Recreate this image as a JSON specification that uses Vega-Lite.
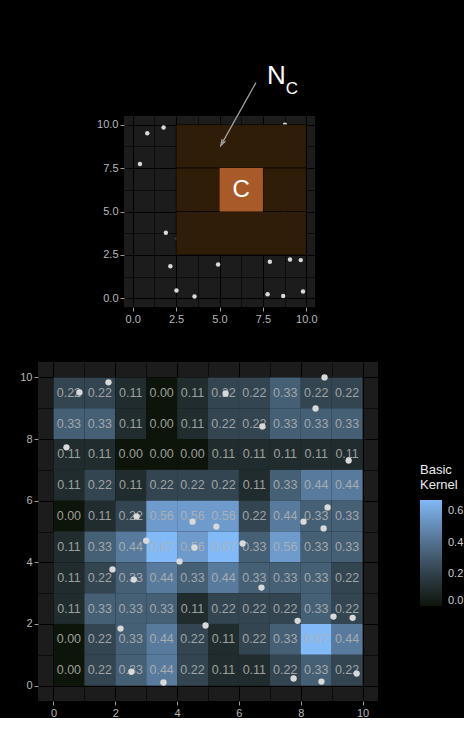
{
  "$schema": "https://vega.github.io/schema/vega-lite/v6.json",
  "background": "#000000",
  "padding": {"left": 19, "top": 62, "right": 0, "bottom": 0},
  "config": {
    "view": {"stroke": null},
    "font": "Liberation Sans",
    "axis": {"domain": false, "gridColor": "#000000", "labelColor": "#b8b8b8", "labelFontSize": 11, "tickColor": "#9a9a9a", "tickSize": 4, "tickWidth": 1, "labelPadding": 2}
  },
  "datasets": {
    "points": [{"x":0.84,"y":9.51},{"x":1.78,"y":9.84},{"x":0.42,"y":7.73},{"x":2.69,"y":5.49},{"x":4.5,"y":5.32},{"x":3.0,"y":4.7},{"x":5.27,"y":5.16},{"x":5.57,"y":9.48},{"x":6.76,"y":8.41},{"x":8.77,"y":10.0},{"x":8.48,"y":8.99},{"x":9.55,"y":7.3},{"x":8.87,"y":5.78},{"x":8.09,"y":5.32},{"x":8.74,"y":5.1},{"x":4.08,"y":4.03},{"x":1.91,"y":3.77},{"x":2.6,"y":3.44},{"x":2.17,"y":1.85},{"x":2.52,"y":0.45},{"x":3.56,"y":0.1},{"x":6.12,"y":4.61},{"x":6.73,"y":3.18},{"x":4.92,"y":1.95},{"x":7.9,"y":2.1},{"x":9.06,"y":2.24},{"x":9.68,"y":2.2},{"x":7.77,"y":0.23},{"x":8.67,"y":0.13},{"x":9.81,"y":0.39},{"x":4.56,"y":4.48}],
    "nbr": [{"x":2.5,"x2":10,"y":7.5,"y2":10},{"x":2.5,"x2":5,"y":5,"y2":7.5},{"x":7.5,"x2":10,"y":5,"y2":7.5},{"x":2.5,"x2":10,"y":2.5,"y2":5}],
    "center": [{"x":5,"x2":7.5,"y":5,"y2":7.5,"cx":6.25,"cy":6.25,"label":"C"}],
    "arrow": [{"x":7.1,"y":12.42,"x2":5.16,"y2":8.95}],
    "annN": [{"x":7.73,"y":12.36,"t":"N"}],
    "annC": [{"x":8.82,"y":11.79,"t":"C"}],
    "cells": [
      {"x":0,"x2":1,"cx":0.5,"y":9,"y2":10,"cy":9.5,"v":0.22},{"x":1,"x2":2,"cx":1.5,"y":9,"y2":10,"cy":9.5,"v":0.22},{"x":2,"x2":3,"cx":2.5,"y":9,"y2":10,"cy":9.5,"v":0.11},{"x":3,"x2":4,"cx":3.5,"y":9,"y2":10,"cy":9.5,"v":0.0},{"x":4,"x2":5,"cx":4.5,"y":9,"y2":10,"cy":9.5,"v":0.11},{"x":5,"x2":6,"cx":5.5,"y":9,"y2":10,"cy":9.5,"v":0.22},{"x":6,"x2":7,"cx":6.5,"y":9,"y2":10,"cy":9.5,"v":0.22},{"x":7,"x2":8,"cx":7.5,"y":9,"y2":10,"cy":9.5,"v":0.33},{"x":8,"x2":9,"cx":8.5,"y":9,"y2":10,"cy":9.5,"v":0.22},{"x":9,"x2":10,"cx":9.5,"y":9,"y2":10,"cy":9.5,"v":0.22},
      {"x":0,"x2":1,"cx":0.5,"y":8,"y2":9,"cy":8.5,"v":0.33},{"x":1,"x2":2,"cx":1.5,"y":8,"y2":9,"cy":8.5,"v":0.33},{"x":2,"x2":3,"cx":2.5,"y":8,"y2":9,"cy":8.5,"v":0.11},{"x":3,"x2":4,"cx":3.5,"y":8,"y2":9,"cy":8.5,"v":0.0},{"x":4,"x2":5,"cx":4.5,"y":8,"y2":9,"cy":8.5,"v":0.11},{"x":5,"x2":6,"cx":5.5,"y":8,"y2":9,"cy":8.5,"v":0.22},{"x":6,"x2":7,"cx":6.5,"y":8,"y2":9,"cy":8.5,"v":0.22},{"x":7,"x2":8,"cx":7.5,"y":8,"y2":9,"cy":8.5,"v":0.33},{"x":8,"x2":9,"cx":8.5,"y":8,"y2":9,"cy":8.5,"v":0.33},{"x":9,"x2":10,"cx":9.5,"y":8,"y2":9,"cy":8.5,"v":0.33},
      {"x":0,"x2":1,"cx":0.5,"y":7,"y2":8,"cy":7.5,"v":0.11},{"x":1,"x2":2,"cx":1.5,"y":7,"y2":8,"cy":7.5,"v":0.11},{"x":2,"x2":3,"cx":2.5,"y":7,"y2":8,"cy":7.5,"v":0.0},{"x":3,"x2":4,"cx":3.5,"y":7,"y2":8,"cy":7.5,"v":0.0},{"x":4,"x2":5,"cx":4.5,"y":7,"y2":8,"cy":7.5,"v":0.0},{"x":5,"x2":6,"cx":5.5,"y":7,"y2":8,"cy":7.5,"v":0.11},{"x":6,"x2":7,"cx":6.5,"y":7,"y2":8,"cy":7.5,"v":0.11},{"x":7,"x2":8,"cx":7.5,"y":7,"y2":8,"cy":7.5,"v":0.11},{"x":8,"x2":9,"cx":8.5,"y":7,"y2":8,"cy":7.5,"v":0.11},{"x":9,"x2":10,"cx":9.5,"y":7,"y2":8,"cy":7.5,"v":0.11},
      {"x":0,"x2":1,"cx":0.5,"y":6,"y2":7,"cy":6.5,"v":0.11},{"x":1,"x2":2,"cx":1.5,"y":6,"y2":7,"cy":6.5,"v":0.22},{"x":2,"x2":3,"cx":2.5,"y":6,"y2":7,"cy":6.5,"v":0.11},{"x":3,"x2":4,"cx":3.5,"y":6,"y2":7,"cy":6.5,"v":0.22},{"x":4,"x2":5,"cx":4.5,"y":6,"y2":7,"cy":6.5,"v":0.22},{"x":5,"x2":6,"cx":5.5,"y":6,"y2":7,"cy":6.5,"v":0.22},{"x":6,"x2":7,"cx":6.5,"y":6,"y2":7,"cy":6.5,"v":0.11},{"x":7,"x2":8,"cx":7.5,"y":6,"y2":7,"cy":6.5,"v":0.33},{"x":8,"x2":9,"cx":8.5,"y":6,"y2":7,"cy":6.5,"v":0.44},{"x":9,"x2":10,"cx":9.5,"y":6,"y2":7,"cy":6.5,"v":0.44},
      {"x":0,"x2":1,"cx":0.5,"y":5,"y2":6,"cy":5.5,"v":0.0},{"x":1,"x2":2,"cx":1.5,"y":5,"y2":6,"cy":5.5,"v":0.11},{"x":2,"x2":3,"cx":2.5,"y":5,"y2":6,"cy":5.5,"v":0.22},{"x":3,"x2":4,"cx":3.5,"y":5,"y2":6,"cy":5.5,"v":0.56},{"x":4,"x2":5,"cx":4.5,"y":5,"y2":6,"cy":5.5,"v":0.56},{"x":5,"x2":6,"cx":5.5,"y":5,"y2":6,"cy":5.5,"v":0.56},{"x":6,"x2":7,"cx":6.5,"y":5,"y2":6,"cy":5.5,"v":0.22},{"x":7,"x2":8,"cx":7.5,"y":5,"y2":6,"cy":5.5,"v":0.44},{"x":8,"x2":9,"cx":8.5,"y":5,"y2":6,"cy":5.5,"v":0.33},{"x":9,"x2":10,"cx":9.5,"y":5,"y2":6,"cy":5.5,"v":0.33},
      {"x":0,"x2":1,"cx":0.5,"y":4,"y2":5,"cy":4.5,"v":0.11},{"x":1,"x2":2,"cx":1.5,"y":4,"y2":5,"cy":4.5,"v":0.33},{"x":2,"x2":3,"cx":2.5,"y":4,"y2":5,"cy":4.5,"v":0.44},{"x":3,"x2":4,"cx":3.5,"y":4,"y2":5,"cy":4.5,"v":0.67},{"x":4,"x2":5,"cx":4.5,"y":4,"y2":5,"cy":4.5,"v":0.56},{"x":5,"x2":6,"cx":5.5,"y":4,"y2":5,"cy":4.5,"v":0.67},{"x":6,"x2":7,"cx":6.5,"y":4,"y2":5,"cy":4.5,"v":0.33},{"x":7,"x2":8,"cx":7.5,"y":4,"y2":5,"cy":4.5,"v":0.56},{"x":8,"x2":9,"cx":8.5,"y":4,"y2":5,"cy":4.5,"v":0.33},{"x":9,"x2":10,"cx":9.5,"y":4,"y2":5,"cy":4.5,"v":0.33},
      {"x":0,"x2":1,"cx":0.5,"y":3,"y2":4,"cy":3.5,"v":0.11},{"x":1,"x2":2,"cx":1.5,"y":3,"y2":4,"cy":3.5,"v":0.22},{"x":2,"x2":3,"cx":2.5,"y":3,"y2":4,"cy":3.5,"v":0.33},{"x":3,"x2":4,"cx":3.5,"y":3,"y2":4,"cy":3.5,"v":0.44},{"x":4,"x2":5,"cx":4.5,"y":3,"y2":4,"cy":3.5,"v":0.33},{"x":5,"x2":6,"cx":5.5,"y":3,"y2":4,"cy":3.5,"v":0.44},{"x":6,"x2":7,"cx":6.5,"y":3,"y2":4,"cy":3.5,"v":0.33},{"x":7,"x2":8,"cx":7.5,"y":3,"y2":4,"cy":3.5,"v":0.33},{"x":8,"x2":9,"cx":8.5,"y":3,"y2":4,"cy":3.5,"v":0.33},{"x":9,"x2":10,"cx":9.5,"y":3,"y2":4,"cy":3.5,"v":0.22},
      {"x":0,"x2":1,"cx":0.5,"y":2,"y2":3,"cy":2.5,"v":0.11},{"x":1,"x2":2,"cx":1.5,"y":2,"y2":3,"cy":2.5,"v":0.33},{"x":2,"x2":3,"cx":2.5,"y":2,"y2":3,"cy":2.5,"v":0.33},{"x":3,"x2":4,"cx":3.5,"y":2,"y2":3,"cy":2.5,"v":0.33},{"x":4,"x2":5,"cx":4.5,"y":2,"y2":3,"cy":2.5,"v":0.11},{"x":5,"x2":6,"cx":5.5,"y":2,"y2":3,"cy":2.5,"v":0.22},{"x":6,"x2":7,"cx":6.5,"y":2,"y2":3,"cy":2.5,"v":0.22},{"x":7,"x2":8,"cx":7.5,"y":2,"y2":3,"cy":2.5,"v":0.22},{"x":8,"x2":9,"cx":8.5,"y":2,"y2":3,"cy":2.5,"v":0.33},{"x":9,"x2":10,"cx":9.5,"y":2,"y2":3,"cy":2.5,"v":0.22},
      {"x":0,"x2":1,"cx":0.5,"y":1,"y2":2,"cy":1.5,"v":0.0},{"x":1,"x2":2,"cx":1.5,"y":1,"y2":2,"cy":1.5,"v":0.22},{"x":2,"x2":3,"cx":2.5,"y":1,"y2":2,"cy":1.5,"v":0.33},{"x":3,"x2":4,"cx":3.5,"y":1,"y2":2,"cy":1.5,"v":0.44},{"x":4,"x2":5,"cx":4.5,"y":1,"y2":2,"cy":1.5,"v":0.22},{"x":5,"x2":6,"cx":5.5,"y":1,"y2":2,"cy":1.5,"v":0.11},{"x":6,"x2":7,"cx":6.5,"y":1,"y2":2,"cy":1.5,"v":0.22},{"x":7,"x2":8,"cx":7.5,"y":1,"y2":2,"cy":1.5,"v":0.33},{"x":8,"x2":9,"cx":8.5,"y":1,"y2":2,"cy":1.5,"v":0.67},{"x":9,"x2":10,"cx":9.5,"y":1,"y2":2,"cy":1.5,"v":0.44},
      {"x":0,"x2":1,"cx":0.5,"y":0,"y2":1,"cy":0.5,"v":0.0},{"x":1,"x2":2,"cx":1.5,"y":0,"y2":1,"cy":0.5,"v":0.22},{"x":2,"x2":3,"cx":2.5,"y":0,"y2":1,"cy":0.5,"v":0.33},{"x":3,"x2":4,"cx":3.5,"y":0,"y2":1,"cy":0.5,"v":0.44},{"x":4,"x2":5,"cx":4.5,"y":0,"y2":1,"cy":0.5,"v":0.22},{"x":5,"x2":6,"cx":5.5,"y":0,"y2":1,"cy":0.5,"v":0.11},{"x":6,"x2":7,"cx":6.5,"y":0,"y2":1,"cy":0.5,"v":0.11},{"x":7,"x2":8,"cx":7.5,"y":0,"y2":1,"cy":0.5,"v":0.22},{"x":8,"x2":9,"cx":8.5,"y":0,"y2":1,"cy":0.5,"v":0.33},{"x":9,"x2":10,"cx":9.5,"y":0,"y2":1,"cy":0.5,"v":0.22}
    ]
  },
  "spacing": 38,
  "vconcat": [
    {
      "spacing": 0,
      "hconcat": [
        {"width": 58, "height": 20, "data": {"values": []}, "mark": {"type": "point", "opacity": 0}},
        {
          "width": 191, "height": 191,
          "view": {"fill": "#1c1c1c"},
          "encoding": {
            "x": {"field": "x", "type": "quantitative", "scale": {"domain": [-0.5, 10.5], "nice": false, "zero": false},
                  "axis": {"orient": "bottom", "title": null, "values": [0, 1.25, 2.5, 3.75, 5, 6.25, 7.5, 8.75, 10],
                           "labelExpr": "datum.value % 2.5 === 0 ? format(datum.value, '.1f') : ''",
                           "tickOpacity": {"condition": {"test": "datum.value % 2.5 === 0", "value": 1}, "value": 0},
                           "gridWidth": {"condition": {"test": "datum.value % 2.5 === 0", "value": 1}, "value": 0.6}}},
            "y": {"field": "y", "type": "quantitative", "scale": {"domain": [-0.5, 10.5], "nice": false, "zero": false},
                  "axis": {"orient": "left", "title": null, "values": [0, 1.25, 2.5, 3.75, 5, 6.25, 7.5, 8.75, 10],
                           "labelExpr": "datum.value % 2.5 === 0 ? format(datum.value, '.1f') : ''",
                           "tickOpacity": {"condition": {"test": "datum.value % 2.5 === 0", "value": 1}, "value": 0},
                           "gridWidth": {"condition": {"test": "datum.value % 2.5 === 0", "value": 1}, "value": 0.6}}}
          },
          "layer": [
            {"data": {"name": "points"}, "mark": {"type": "circle", "size": 20, "color": "#d9d9d9", "opacity": 1}},
            {"data": {"name": "nbr"}, "mark": {"type": "rect", "color": "#2f1d08", "stroke": "#000000", "strokeWidth": 1, "strokeOpacity": 0.6},
             "encoding": {"x2": {"field": "x2"}, "y2": {"field": "y2"}}},
            {"data": {"name": "center"}, "mark": {"type": "rect", "color": "#a85a28"},
             "encoding": {"x2": {"field": "x2"}, "y2": {"field": "y2"}}},
            {"data": {"name": "center"}, "mark": {"type": "text", "color": "#ffffff", "fontSize": 24, "baseline": "middle", "align": "center"},
             "encoding": {"x": {"field": "cx", "type": "quantitative"}, "y": {"field": "cy", "type": "quantitative"}, "text": {"field": "label"}}},
            {"data": {"name": "arrow"}, "mark": {"type": "rule", "color": "#a6a6a6", "strokeWidth": 1.2},
             "encoding": {"x2": {"field": "x2"}, "y2": {"field": "y2"}}},
            {"data": {"name": "arrow"}, "mark": {"type": "point", "shape": "M -0.6 1 L 0 -1 L 0.6 1", "filled": false, "stroke": "#a6a6a6", "strokeWidth": 1.2, "size": 40, "angle": 209, "opacity": 1},
             "encoding": {"x": {"field": "x2", "type": "quantitative"}, "y": {"field": "y2", "type": "quantitative"}}},
            {"data": {"name": "annN"}, "mark": {"type": "text", "color": "#ffffff", "fontSize": 26, "align": "left", "baseline": "alphabetic"},
             "encoding": {"text": {"field": "t"}}},
            {"data": {"name": "annC"}, "mark": {"type": "text", "color": "#ffffff", "fontSize": 17, "align": "left", "baseline": "alphabetic"},
             "encoding": {"text": {"field": "t"}}}
          ]
        }
      ]
    },
    {
      "width": 340, "height": 339,
      "view": {"fill": "#1c1c1c"},
      "encoding": {
        "x": {"field": "x", "type": "quantitative", "scale": {"domain": [-0.5, 10.5], "nice": false, "zero": false},
              "axis": {"orient": "bottom", "title": null, "values": [0,1,2,3,4,5,6,7,8,9,10],
                       "labelExpr": "datum.value % 2 === 0 ? datum.label : ''",
                       "tickOpacity": {"condition": {"test": "datum.value % 2 === 0", "value": 1}, "value": 0},
                       "gridWidth": {"condition": {"test": "datum.value % 2 === 0", "value": 1}, "value": 0.6}}},
        "y": {"field": "y", "type": "quantitative", "scale": {"domain": [-0.5, 10.5], "nice": false, "zero": false},
              "axis": {"orient": "left", "title": null, "values": [0,1,2,3,4,5,6,7,8,9,10],
                       "labelExpr": "datum.value % 2 === 0 ? datum.label : ''",
                       "tickOpacity": {"condition": {"test": "datum.value % 2 === 0", "value": 1}, "value": 0},
                       "gridWidth": {"condition": {"test": "datum.value % 2 === 0", "value": 1}, "value": 0.6}}}
      },
      "layer": [
        {"data": {"name": "cells"}, "mark": {"type": "rect"},
         "encoding": {
           "x2": {"field": "x2"}, "y2": {"field": "y2"},
           "color": {"field": "v", "type": "quantitative", "title": ["Basic", "Kernel"],
                     "scale": {"domain": [0, 0.67], "range": ["#0d150a", "#82b9f7"], "interpolate": "lab"},
                     "legend": {"orient": "none", "legendX": 382, "legendY": 348, "gradientLength": 106, "gradientThickness": 22,
                                "titleFontSize": 13, "titleColor": "#ebebeb", "titleFontWeight": "normal", "titleLineHeight": 15,
                                "labelColor": "#cccccc", "labelFontSize": 11, "values": [0, 0.2, 0.4, 0.6], "format": ".1f",
                                "titlePadding": 8, "labelOffset": 6, "labelBaseline": "middle", "gradientStrokeWidth": 0}}
         }},
        {"data": {"name": "cells"}, "mark": {"type": "text", "color": "#b4b4b4", "opacity": 0.85, "fontSize": 12.5},
         "encoding": {
           "x": {"field": "cx", "type": "quantitative"},
           "y": {"field": "cy", "type": "quantitative"},
           "text": {"field": "v", "format": ".2f"}
         }},
        {"data": {"name": "points"}, "mark": {"type": "circle", "size": 40, "color": "#d9d9d9", "opacity": 1}}
      ]
    }
  ]
}
